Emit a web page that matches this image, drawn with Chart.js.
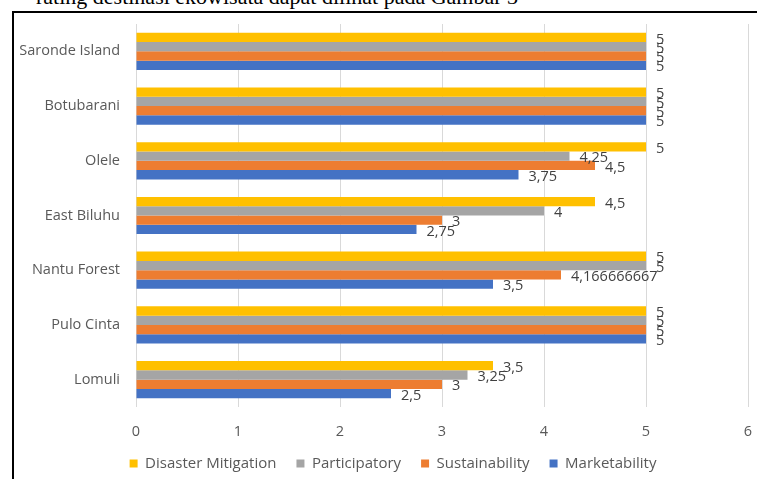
<!DOCTYPE html>
<html>
<head>
<meta charset="utf-8">
<script src="https://cdn.jsdelivr.net/npm/chart.js@4.4.1/dist/chart.umd.min.js"></script>
<style>
  html, body { margin: 0; padding: 0; background: #fff; overflow: hidden; width: 757px; height: 479px; }
  #caption { position: absolute; left: 36px; top: -14px; font: 22px "Liberation Serif", "DejaVu Serif", serif; line-height: 1; color: #000; white-space: nowrap; }
  #frame { position: absolute; left: 12px; top: 11px; width: 780px; height: 490px; border: 2px solid #000; box-sizing: border-box; }
  #wrap { position: absolute; left: 0; top: 0; width: 758px; height: 468px; }
</style>
</head>
<body>
<div id="caption">rating destinasi ekowisata dapat dilihat pada Gambar 3</div>
<div id="frame">
  <div id="wrap"><canvas id="rating-chart"></canvas></div>
</div>
<script>
// destinations, top to bottom
var destinations = ["Saronde Island", "Botubarani", "Olele", "East Biluhu", "Nantu Forest", "Pulo Cinta", "Lomuli"];

// score per criterion (same order as destinations)
var disasterMitigation = [5, 5, 5, 4.5, 5, 5, 3.5];
var participatory      = [5, 5, 4.25, 4, 5, 5, 3.25];
var sustainability     = [5, 5, 4.5, 3, 4.166666667, 5, 3];
var marketability      = [5, 5, 3.75, 2.75, 3.5, 5, 2.5];

var xTicks = [0, 1, 2, 3, 4, 5, 6];

var textGrey = '#595959';
var fontFamily = '"Open Sans", "Liberation Sans", sans-serif';
var baseFont = {family: fontFamily, size: 14.5};

/* writes the value next to the end of every bar, with a decimal comma */
var barValues = {
  id: 'barValues',
  afterDatasetsDraw: function(chart) {
    var ctx = chart.ctx;
    ctx.save();
    ctx.font = '14.5px ' + fontFamily;
    ctx.fillStyle = '#404040';
    ctx.textAlign = 'left';
    ctx.textBaseline = 'middle';
    chart.data.datasets.forEach(function(ds, i) {
      chart.getDatasetMeta(i).data.forEach(function(bar, j) {
        var txt = String(ds.data[j]).replace('.', ',');
        ctx.fillText(txt, bar.x + 10, bar.y + 2);
      });
    });
    ctx.restore();
  }
};

var ctx = document.getElementById('rating-chart');
var ratingChart = new Chart(ctx, {
  type: 'bar',
  data: {
    labels: destinations,
    datasets: [
      {label: "Disaster Mitigation", data: disasterMitigation, backgroundColor: '#FFC000'},
      {label: "Participatory", data: participatory, backgroundColor: '#A5A5A5'},
      {label: "Sustainability", data: sustainability, backgroundColor: '#ED7D31'},
      {label: "Marketability", data: marketability, backgroundColor: '#4472C4'}
    ]
  },
  options: {
    indexAxis: 'y',
    responsive: true,
    maintainAspectRatio: false,
    animation: false,
    devicePixelRatio: 1,
    layout: {padding: {top: 11, right: 0, left: 0, bottom: 0}},
    datasets: {bar: {barPercentage: 1, categoryPercentage: 0.68, borderWidth: 0}},
    scales: {
      x: {
        min: xTicks[0],
        max: xTicks[xTicks.length - 1],
        afterBuildTicks: function(scale) {
          scale.ticks = xTicks.map(function(v) { return {value: v}; });
        },
        afterFit: function(scale) {
          // empty strip right of the last gridline, legend stays centred on the canvas
          scale.height = 29;
          scale.paddingRight = 24;
        },
        grid: {color: '#d9d9d9', drawTicks: false},
        border: {display: false},
        ticks: {color: textGrey, font: baseFont, padding: 16}
      },
      y: {
        afterFit: function(scale) {
          // fixed label column, no extra room above/below the categories
          scale.width = 122;
          scale.paddingTop = 0;
          scale.paddingBottom = 0;
        },
        grid: {display: false, drawTicks: false},
        border: {display: false},
        ticks: {color: textGrey, font: baseFont, padding: 16}
      }
    },
    plugins: {
      legend: {
        position: 'bottom',
        labels: {color: textGrey, font: {family: fontFamily, size: 15}, boxWidth: 8, boxHeight: 8, padding: 20}
      },
      tooltip: {enabled: false},
      title: {display: false}
    }
  },
  plugins: [barValues]
});
</script>
</body>
</html>
